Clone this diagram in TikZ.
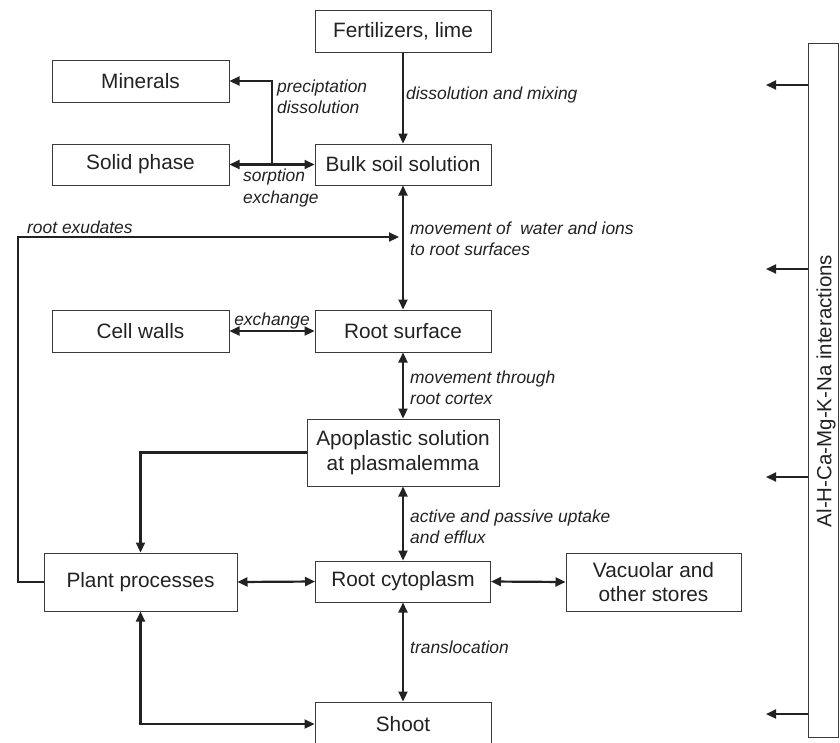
\documentclass[tikz,border=0pt]{standalone}
\usepackage{fontspec}
\setmainfont{Liberation Sans}
\usetikzlibrary{arrows.meta}
\definecolor{ink}{HTML}{222222}
\definecolor{edge}{HTML}{3A3A3A}
\begin{document}
\begin{tikzpicture}[x=1pt,y=-1pt,
  box/.style={draw=edge,line width=1pt,inner sep=0pt,align=center,text=ink,
              font=\fontsize{20.8}{24.5}\selectfont},
  conn/.style={draw=ink,line width=2.2pt},
  tipe/.style={-{Triangle[length=10pt,width=9pt]}},
  dbl/.style={{Triangle[length=10pt,width=9pt]}-{Triangle[length=10pt,width=9pt]}},
  lab/.style={inner sep=0pt,align=left,text=ink,anchor=west,
              font=\fontsize{17.4}{21.5}\selectfont\itshape}
]
\useasboundingbox[fill=white] (0,0) rectangle (840,742);

% boxes
\node[box,minimum width=176pt,minimum height=42pt] (fert)  at (403,31)    {Fertilizers, lime};
\node[box,minimum width=177pt,minimum height=42pt] (min)   at (140.5,81)  {Minerals};
\node[box,minimum width=177pt,minimum height=41pt] (solid) at (140.5,164.5) {Solid phase};
\node[box,minimum width=176pt,minimum height=41pt] (bulk)  at (403,164.5) {Bulk soil solution};
\node[box,minimum width=177pt,minimum height=42pt] (cell)  at (140.5,331) {Cell walls};
\node[box,minimum width=176pt,minimum height=42pt] (rsurf) at (403,331)   {Root surface};
\node[box,minimum width=192pt,minimum height=67pt] (apo)   at (403,452.5) {Apoplastic solution\\at plasmalemma};
\node[box,minimum width=193pt,minimum height=58pt] (plant) at (140.5,582) {Plant processes};
\node[box,minimum width=175pt,minimum height=41pt] (cyto)  at (403,581.5) {Root cytoplasm};
\node[box,minimum width=175pt,minimum height=58pt] (vac)   at (653.5,582) {Vacuolar and\\other stores};
\node[box,minimum width=176pt,minimum height=44pt] (shoot) at (403,724)   {Shoot};
\node[draw=edge,line width=1pt,inner sep=0pt,minimum width=30pt,minimum height=694pt] (big) at (823.5,390) {};
\node[inner sep=0pt,rotate=90,text=ink,font=\fontsize{20.5}{24.5}\selectfont] (bigtxt) at (826,391) {Al-H-Ca-Mg-K-Na interactions};

% vertical chain
\draw[conn,tipe] (fert.south) -- (bulk.north);
\draw[conn,dbl] (bulk.south) -- (rsurf.north);
\draw[conn,dbl] (rsurf.south) -- (apo.north);
\draw[conn,dbl] (apo.south) -- (cyto.north);
\draw[conn,dbl] (cyto.south) -- (shoot.north);

% left side
\coordinate (j) at (272,164.5);
\draw[conn,dbl] (solid.east) -- (bulk.west);
\draw[conn,tipe] (j) |- (min.east);
\draw[conn,dbl] (cell.east) -- (rsurf.west);
\coordinate (rxl) at (18,237);
\coordinate (rxr) at (399,237);
\draw[conn,tipe] (plant.west) -| (rxl) -- (rxr);
\draw[conn,tipe] (apo.west) -| (plant.north);
\draw[conn,dbl] (plant.east) -- (cyto.west);
\draw[conn,dbl] (cyto.east) -- (vac.west);
\draw[conn,dbl] (plant.south) |- (shoot.west);

% right arrows
\coordinate (r1) at (766,85);
\coordinate (r2) at (766,269);
\coordinate (r3) at (766,477);
\coordinate (r4) at (766,714);
\foreach \r in {r1,r2,r3,r4} \draw[conn,tipe] (\r -| big.west) -- (\r);

% labels
\node[lab] (l1) at (406,95)  {dissolution and mixing};
\node[lab] (l2) at (277,97)  {preciptation\\dissolution};
\node[lab] (l3) at (243,188) {sorption\\exchange};
\node[lab] (l4) at (27,227)  {root exudates};
\node[lab] (l5) at (410,239) {movement of\ \ water and ions\\to root surfaces};
\node[lab,anchor=center] (l6) at (272,321) {exchange};
\node[lab] (l7) at (410,388) {movement through\\root cortex};
\node[lab] (l8) at (410,527) {active and passive uptake\\and efflux};
\node[lab] (l9) at (410,647) {translocation};
\end{tikzpicture}
\end{document}
